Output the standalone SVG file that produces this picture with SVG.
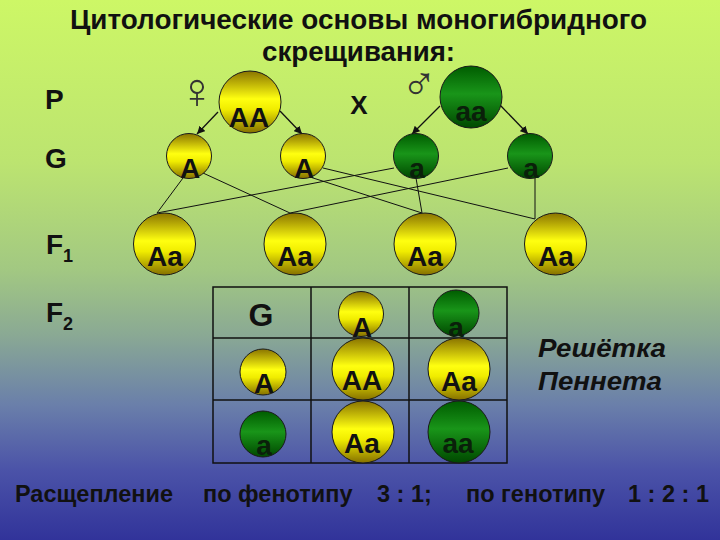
<svg xmlns="http://www.w3.org/2000/svg" width="720" height="540" viewBox="0 0 720 540">
<defs>
<linearGradient id="bg" x1="0" y1="0" x2="0" y2="1">
<stop offset="0" stop-color="#cdf766"/>
<stop offset="0.3" stop-color="#bce470"/>
<stop offset="0.5" stop-color="#a2c882"/>
<stop offset="0.62" stop-color="#8aa994"/>
<stop offset="0.75" stop-color="#6a7faa"/>
<stop offset="0.87" stop-color="#4b53a8"/>
<stop offset="1" stop-color="#31339a"/>
</linearGradient>
<linearGradient id="yel" x1="0" y1="0" x2="0" y2="1">
<stop offset="0" stop-color="#8a7400"/>
<stop offset="0.45" stop-color="#ffff10"/>
<stop offset="0.62" stop-color="#f0ec00"/>
<stop offset="1" stop-color="#857000"/>
</linearGradient>
<linearGradient id="grn" x1="0" y1="0" x2="0" y2="1">
<stop offset="0" stop-color="#005c00"/>
<stop offset="0.45" stop-color="#199519"/>
<stop offset="1" stop-color="#004800"/>
</linearGradient>
<marker id="arr" viewBox="0 0 10 10" refX="10" refY="5" markerWidth="6" markerHeight="6" orient="auto" markerUnits="strokeWidth">
<path d="M0,0 L10,5 L0,10 z" fill="#111"/>
</marker>
</defs>
<style>
.t{font-family:"Liberation Sans",Arial,sans-serif;font-weight:bold;fill:#111}
.c{stroke:#1a1a1a;stroke-width:1}
.y{fill:url(#yel)}
.g{fill:url(#grn)}
.l{font-family:"Liberation Sans",Arial,sans-serif;font-weight:bold;font-size:28px;text-anchor:middle;fill:#111}
.lg{fill:#0a200a}
.ln{stroke:#111;stroke-width:1;fill:none}
.ar{stroke:#111;stroke-width:1.3;fill:none;marker-end:url(#arr)}
.grid{stroke:#111;stroke-width:1.5;fill:none}
.sym{font-family:"DejaVu Sans ExtraLight","DejaVu Sans",sans-serif;font-weight:200;fill:#333;text-anchor:middle}
</style>
<rect width="720" height="540" fill="url(#bg)"/>

<g id="title">
<text class="t" x="70" y="29" font-size="27" textLength="577" lengthAdjust="spacingAndGlyphs">Цитологические основы моногибридного</text>
<text class="t" x="262" y="61" font-size="27" textLength="193" lengthAdjust="spacingAndGlyphs">скрещивания:</text>
</g>

<g id="row-labels">
<text class="t" x="45" y="109" font-size="28">P</text>
<text class="t" x="45" y="168" font-size="28">G</text>
<text class="t" x="46" y="254" font-size="28">F<tspan font-size="18" dy="8">1</tspan></text>
<text class="t" x="46" y="322" font-size="28">F<tspan font-size="18" dy="8">2</tspan></text>
</g>

<g id="symbols">
<text class="sym" x="197" y="108" font-size="50">♀</text>
<text class="sym" x="419" y="100" font-size="48">♂</text>
<text class="t" x="359" y="114" font-size="26" text-anchor="middle">X</text>
</g>

<g id="connectors">
<line class="ar" x1="218" y1="112" x2="197" y2="134"/>
<line class="ar" x1="280" y1="111" x2="302" y2="134"/>
<line class="ar" x1="440" y1="106" x2="412" y2="134"/>
<line class="ar" x1="500" y1="105" x2="528" y2="134"/>
<line class="ln" x1="183" y1="178" x2="157" y2="213"/>
<line class="ln" x1="203" y1="173" x2="290" y2="213"/>
<line class="ln" x1="310" y1="177" x2="422" y2="213"/>
<line class="ln" x1="323" y1="168" x2="535" y2="219"/>
<line class="ln" x1="394" y1="168" x2="157" y2="213"/>
<line class="ln" x1="416" y1="178" x2="422" y2="213"/>
<line class="ln" x1="508" y1="168" x2="290" y2="213"/>
<line class="ln" x1="535" y1="178" x2="535" y2="219"/>
</g>

<g id="parent-AA"><circle class="c y" cx="250" cy="102" r="31"/><text class="l" x="249" y="127">AA</text></g>
<g id="parent-aa"><circle class="c g" cx="471" cy="97" r="31"/><text class="l lg" x="471" y="121">aa</text></g>
<g id="gamete-A1"><circle class="c y" cx="189" cy="156" r="22.5"/><text class="l" x="190" y="178">A</text></g>
<g id="gamete-A2"><circle class="c y" cx="303" cy="156" r="22.5"/><text class="l" x="304" y="178">A</text></g>
<g id="gamete-a1"><circle class="c g" cx="416" cy="156" r="22.5"/><text class="l lg" x="417" y="178">a</text></g>
<g id="gamete-a2"><circle class="c g" cx="530" cy="156" r="22.5"/><text class="l lg" x="531" y="178">a</text></g>

<g id="f1-1"><circle class="c y" cx="164.5" cy="244" r="31"/><text class="l" x="165" y="266">Aa</text></g>
<g id="f1-2"><circle class="c y" cx="295" cy="244" r="31"/><text class="l" x="295" y="266">Aa</text></g>
<g id="f1-3"><circle class="c y" cx="425" cy="244" r="31"/><text class="l" x="425" y="266">Aa</text></g>
<g id="f1-4"><circle class="c y" cx="555.5" cy="244" r="31"/><text class="l" x="556" y="266">Aa</text></g>

<g id="punnett-grid">
<rect class="grid" x="213" y="287" width="294" height="176" stroke-width="2"/>
<line class="grid" x1="311" y1="287" x2="311" y2="463"/>
<line class="grid" x1="409" y1="287" x2="409" y2="463"/>
<line class="grid" x1="213" y1="338" x2="507" y2="338"/>
<line class="grid" x1="213" y1="400" x2="507" y2="400"/>
<text class="t" x="261" y="326" font-size="32" text-anchor="middle">G</text>
</g>

<g id="p-gA"><circle class="c y" cx="361" cy="314" r="22.5"/><text class="l" x="362" y="337">A</text></g>
<g id="p-ga"><circle class="c g" cx="456" cy="313" r="23"/><text class="l lg" x="456" y="337">a</text></g>
<g id="p-rA"><circle class="c y" cx="263" cy="372" r="23"/><text class="l" x="264" y="393">A</text></g>
<g id="p-AA"><circle class="c y" cx="363" cy="369" r="31"/><text class="l" x="362" y="390">AA</text></g>
<g id="p-Aa1"><circle class="c y" cx="459" cy="369" r="31"/><text class="l" x="459" y="391">Aa</text></g>
<g id="p-ra"><circle class="c g" cx="263" cy="434" r="23"/><text class="l lg" x="264" y="455">a</text></g>
<g id="p-Aa2"><circle class="c y" cx="363" cy="432" r="31"/><text class="l" x="362" y="453">Aa</text></g>
<g id="p-aa"><circle class="c g" cx="459" cy="432" r="31"/><text class="l lg" x="458" y="453">aa</text></g>

<g id="punnett-label">
<text class="t" x="538" y="357" font-size="25" font-style="italic" textLength="128" lengthAdjust="spacingAndGlyphs">Решётка</text>
<text class="t" x="538" y="390" font-size="25" font-style="italic" textLength="124" lengthAdjust="spacingAndGlyphs">Пеннета</text>
</g>

<g id="ratio">
<text class="t" font-size="23.5" y="502"><tspan x="15">Расщепление</tspan><tspan x="203">по фенотипу</tspan><tspan x="377">3 : 1;</tspan><tspan x="466">по генотипу</tspan><tspan x="628">1 : 2 : 1</tspan></text>
</g>
</svg>
